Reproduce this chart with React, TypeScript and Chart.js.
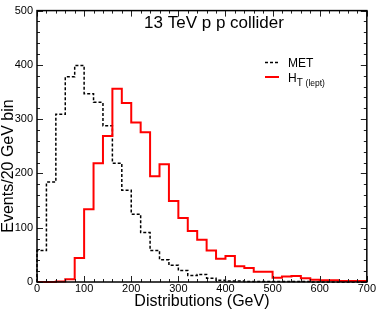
import React, { useEffect, useRef } from "react";
import { Chart, registerables } from "chart.js";

Chart.register(...registerables);

const binEdges = [0, 20, 40, 60, 80, 100, 120, 140, 160, 180, 200, 220, 240, 260, 280, 300, 320, 340, 360, 380, 400, 420, 440, 460, 480, 500, 520, 540, 560, 580, 600, 620, 640, 660, 680, 700];
const metValues = [58, 184, 309, 378, 399, 347, 331, 288, 219, 169, 125, 91, 58, 41, 31, 21, 12, 14, 7, 3, 2, 2, 1, 1, 1, 1, 1, 1, 1, 0, 0, 0, 0, 0, 0];
const htValues = [0, 0, 1, 5, 44, 134, 219, 269, 356, 330, 294, 276, 195, 217, 149, 118, 94, 78, 58, 43, 48, 29, 26, 19, 19, 8, 10, 11, 7, 4, 3, 3, 2, 2, 2];
const xTickValues = [0, 100, 200, 300, 400, 500, 600, 700];
const yTickValues = [0, 100, 200, 300, 400, 500];
const seriesNames = ["MET", "H", "T", "(lept)"];
const titleText = "13 TeV p p collider";
const xTitle = "Distributions (GeV)";
const yTitle = "Events/20 GeV bin";

const FONT = "'Liberation Sans', Arial, Helvetica, sans-serif";

function toSteps(values: number[]) {
  const pts: { x: number; y: number }[] = [{ x: binEdges[0], y: 0 }];
  values.forEach((v, i) => pts.push({ x: binEdges[i], y: v }));
  pts.push({ x: binEdges[values.length], y: values[values.length - 1] });
  return pts;
}

const framePlugin = {
  id: "framePlugin",
  afterDatasetsDraw(chart: any) {
    const { ctx, chartArea, scales } = chart;
    const { left, right, top, bottom } = chartArea;
    const xs = scales.x;
    const ys = scales.y;
    ctx.save();
    ctx.strokeStyle = "#222";
    ctx.lineWidth = 1;
    ctx.beginPath();
    for (let v = xs.min; v <= xs.max; v += 20) {
      const px = Math.round(xs.getPixelForValue(v)) + 0.5;
      const len = v % 100 === 0 ? 6 : 3;
      ctx.moveTo(px, bottom);
      ctx.lineTo(px, bottom - len);
      ctx.moveTo(px, top);
      ctx.lineTo(px, top + len);
    }
    for (let v = ys.min; v <= ys.max; v += 20) {
      const py = Math.round(ys.getPixelForValue(v)) + 0.5;
      const len = v % 100 === 0 ? 6 : 3;
      ctx.moveTo(left, py);
      ctx.lineTo(left + len, py);
      ctx.moveTo(right, py);
      ctx.lineTo(right - len, py);
    }
    ctx.stroke();
    ctx.strokeStyle = "#000";
    ctx.lineWidth = 1.5;
    ctx.strokeRect(left, top, right - left, bottom - top);

    // title
    ctx.fillStyle = "#000";
    ctx.font = `17px ${FONT}`;
    ctx.textAlign = "center";
    ctx.textBaseline = "alphabetic";
    ctx.fillText(titleText, 214, 28);

    // y title
    ctx.save();
    ctx.translate(9, 166);
    ctx.rotate(-Math.PI / 2);
    ctx.font = `16px ${FONT}`;
    ctx.textAlign = "center";
    ctx.textBaseline = "middle";
    ctx.fillText(yTitle, 0, 0);
    ctx.restore();

    // legend
    ctx.lineWidth = 1.5;
    ctx.strokeStyle = "#000";
    ctx.setLineDash([3, 2]);
    ctx.beginPath();
    ctx.moveTo(265, 62.5);
    ctx.lineTo(279, 62.5);
    ctx.stroke();
    ctx.setLineDash([]);
    ctx.strokeStyle = "#ff0000";
    ctx.lineWidth = 2;
    ctx.beginPath();
    ctx.moveTo(265, 77);
    ctx.lineTo(279, 77);
    ctx.stroke();

    ctx.textAlign = "left";
    ctx.textBaseline = "alphabetic";
    ctx.font = `12px ${FONT}`;
    ctx.fillText(seriesNames[0], 288, 67);
    ctx.fillText(seriesNames[1], 288, 82);
    const hW = ctx.measureText(seriesNames[1]).width;
    ctx.font = `10px ${FONT}`;
    ctx.fillText(seriesNames[2], 288 + hW, 86);
    const tW = ctx.measureText(seriesNames[2] + " ").width;
    ctx.font = `8.5px ${FONT}`;
    ctx.fillText(seriesNames[3], 288 + hW + tW, 86);
    ctx.restore();
  },
};

export default function App() {
  const canvasRef = useRef<HTMLCanvasElement | null>(null);

  useEffect(() => {
    if (!canvasRef.current) return;
    const chart = new Chart(canvasRef.current, {
      type: "line",
      data: {
        datasets: [
          {
            label: "MET",
            data: toSteps(metValues),
            borderColor: "#000000",
            borderWidth: 1.5,
            borderDash: [3, 2],
            stepped: "before",
            pointRadius: 0,
            fill: false,
            clip: 6,
            order: 2,
          },
          {
            label: "HT (lept)",
            data: toSteps(htValues),
            borderColor: "#ff0000",
            borderWidth: 2,
            stepped: "before",
            pointRadius: 0,
            fill: false,
            clip: 6,
            order: 1,
          },
        ],
      },
      options: {
        responsive: false,
        animation: false,
        layout: { padding: { top: 4, right: 9, left: 0, bottom: 0 } },
        plugins: {
          legend: { display: false },
          tooltip: { enabled: false },
          title: { display: false },
        },
        scales: {
          x: {
            type: "linear",
            min: 0,
            max: 700,
            afterBuildTicks: (scale: any) => {
              scale.ticks = xTickValues.map((v) => ({ value: v }));
            },
            afterFit: (scale: any) => {
              scale.height = 29;
            },
            ticks: {
              font: { family: FONT, size: 11 },
              color: "#000",
              padding: 0,
              maxRotation: 0,
            },
            grid: { display: false, drawTicks: false },
            border: { display: false },
            title: {
              display: true,
              text: xTitle,
              color: "#000",
              font: { family: FONT, size: 16 },
              padding: { top: 0, bottom: 0 },
            },
          },
          y: {
            type: "linear",
            min: 0,
            max: 500,
            afterBuildTicks: (scale: any) => {
              scale.ticks = yTickValues.map((v) => ({ value: v }));
            },
            afterFit: (scale: any) => {
              scale.width = 37;
            },
            ticks: {
              font: { family: FONT, size: 11 },
              color: "#000",
              padding: 4,
            },
            grid: { display: false, drawTicks: false },
            border: { display: false },
          },
        },
      },
      plugins: [framePlugin],
    });
    return () => chart.destroy();
  }, []);

  return (
    <div style={{ position: "absolute", left: 0, top: 0, width: 376, height: 311, background: "#fff" }}>
      <canvas ref={canvasRef} width={376} height={311} />
    </div>
  );
}
